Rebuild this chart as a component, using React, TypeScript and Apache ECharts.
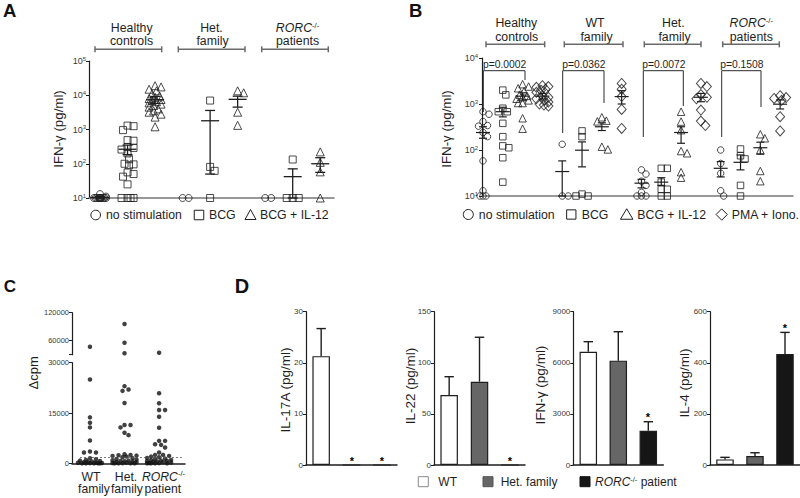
import React, { useEffect, useRef } from "react";
import * as echarts from "echarts";

const FONT = "'Liberation Sans', Arial, Helvetica, sans-serif";
const INK = "#1e1e1e";
const TICK = "#3a3a3a";

// ---------- Panel A : IFN-γ (pg/ml), 9 columns ----------
const A_HC_NS = [13, 11, 10, 10, 10, 10, 10, 10, 10, 10, 10, 10, 10, 10, 10];
const A_HC_BCG = [1300, 1250, 960, 490, 470, 310, 290, 260, 200, 135, 100, 96, 90, 56, 50, 42, 25, 10, 10, 10, 10];
const A_HC_IL12 = [19000, 17500, 15000, 13500, 11000, 9500, 8700, 8000, 7500, 7000, 6500, 6000, 5500, 5000, 4500, 4000, 3500, 3200, 2800, 2300, 1200];
const A_HET_NS = [10, 10];
const A_HET_BCG = [7000, 81, 62, 10];
const A_HET_IL12 = [13500, 11800, 3200, 1320];
const A_RORC_NS = [10, 10];
const A_RORC_BCG = [133, 10, 10, 10];
const A_RORC_IL12 = [222, 110, 58, 10];
const A_MEAN = [10.4, 265, 7400, null, 1800, 7600, null, 42, 100];
const A_SEM_LOW = [10, 185, 5800, null, 50, 4500, null, 10, 56];
const A_SEM_HIGH = [11, 350, 9200, null, 3600, 9400, null, 71, 150];

// ---------- Panel B : IFN-γ (pg/ml), 16 columns ----------
const B_HC_NS = [680, 600, 415, 340, 330, 240, 195, 58, 13, 10, 10, 10];
const B_HC_BCG = [2000, 1580, 810, 680, 680, 380, 195, 123, 112, 68, 20];
const B_HC_IL12 = [2700, 2400, 2200, 1900, 1600, 1500, 1400, 1300, 1200, 1050, 1050, 490, 290];
const B_HC_PMA = [2500, 2400, 2300, 2100, 2000, 1800, 1500, 1400, 1300, 1200, 1100, 1000, 950, 900];
const B_WT_NS = [133, 10, 10];
const B_WT_BCG = [260, 195, 11, 10, 10];
const B_WT_IL12 = [515, 435, 420, 118, 103];
const B_WT_PMA = [2800, 2100, 1450, 760, 295];
const B_HET_NS = [37, 30, 21, 17, 12, 10, 10, 10];
const B_HET_BCG = [40, 40, 20, 14, 14, 10, 10];
const B_HET_IL12 = [680, 415, 270, 95, 85, 33, 25];
const B_HET_PMA = [2800, 2400, 1600, 1400, 1300, 740, 425, 340];
const B_RORC_NS = [100, 51, 31, 13, 10];
const B_RORC_BCG = [105, 75, 64, 17, 10];
const B_RORC_IL12 = [220, 180, 100, 35, 21];
const B_RORC_PMA = [1520, 1380, 1320, 1200, 530, 260];
const B_MEAN = [240, 680, 1480, 1480, 34, 99, 320, 1450, 19, 20, 240, 1400, 40, 54, 112, 990];
const B_SEM_LOW = [180, 525, 1220, 1280, 10, 43, 265, 1000, 15, 17, 140, 1120, 26, 37, 81, 780];
const B_SEM_HIGH = [320, 850, 1750, 1700, 58, 150, 390, 1950, 23, 25, 320, 1700, 56, 78, 148, 1230];
const B_PVALUES = ["p=0.0002", "p=0.0362", "p=0.0072", "p=0.1508"];

// ---------- Panel C : Δcpm ----------
const C_CATS = ["WT family", "Het. family", "RORC-/- patient"];
const C_WT = [47000, 25000, 13700, 12100, 10700, 6800, 3500, 3200, 3200, 1500, 1200, 1000, 800, 700, 500, 400, 300, 200, 150, 100, 50, 0, 0, 0, 0, 0];
const C_HET = [95800, 55700, 33000, 23000, 22000, 21600, 18000, 11400, 11400, 10700, 9100, 8400, 2700, 2500, 2400, 2300, 2200, 2000, 1800, 1500, 1300, 1100, 900, 800, 700, 600, 500, 400, 300, 200, 100, 50, 0, 0, 0, 0];
const C_RORC = [34300, 20900, 17900, 15900, 15900, 13900, 10600, 6700, 6700, 5700, 5500, 4700, 3200, 2500, 2500, 2200, 2000, 1800, 1600, 1400, 1200, 1000, 900, 800, 700, 600, 500, 400, 300, 200, 100, 50, 0, 0, 0, 0];
const C_CUTOFF = 1800;

// ---------- Panel D : cytokines (pg/ml) ----------
const D_CATS = ["WT", "Het. family", "RORC-/- patient"];
const D_COLORS = ["#ffffff", "#666666", "#161616"];
const D_IL17A = [21.3, 0, 0];
const D_IL17A_ERR = [26.7, null, null];
const D_IL22 = [68.5, 81.5, 0];
const D_IL22_ERR = [86.4, 125, null];
const D_IFNG = [6650, 6125, 2015];
const D_IFNG_ERR = [7240, 7825, 2540];
const D_IL4 = [22, 35, 434];
const D_IL4_ERR = [30, 48, 519];
const D_IL17A_SIG = [false, true, true];
const D_IL22_SIG = [false, false, true];
const D_IFNG_SIG = [false, false, true];
const D_IL4_SIG = [false, false, true];

// ---------- helpers ----------
function swarm(vals: number[], center: number, toPx: (v: number) => number, pxPerUnit: number, size: number, maxHalf: number, step: number) {
  const placed: [number, number][] = [];
  const out: [number, number][] = [];
  const cands = [0];
  for (let k = step; k <= maxHalf + 1e-6; k += step) cands.push(k, -k);
  for (const v of vals) {
    const py = toPx(v);
    let best = 0;
    let bestScore = -1;
    for (const c of cands) {
      let minD = Infinity;
      for (const [qx, qy] of placed) {
        const d = Math.hypot(c - qx, py - qy);
        if (d < minD) minD = d;
      }
      if (minD >= size) { best = c; break; }
      if (minD > bestScore) { bestScore = minD; best = c; }
    }
    placed.push([best, py]);
    out.push([center + best / pxPerUnit, v]);
  }
  return out;
}

function meanRenderer(halfMean: number, halfCap: number, lw: number) {
  return (_p: any, api: any) => {
    const x = api.value(0);
    const pm = api.coord([x, api.value(1)]);
    const pl = api.coord([x, api.value(2)]);
    const ph = api.coord([x, api.value(3)]);
    const st = { stroke: INK, lineWidth: lw };
    return {
      type: "group",
      children: [
        { type: "line", shape: { x1: pm[0] - halfMean, y1: pm[1], x2: pm[0] + halfMean, y2: pm[1] }, style: st },
        { type: "line", shape: { x1: pm[0], y1: pl[1], x2: pm[0], y2: ph[1] }, style: st },
        { type: "line", shape: { x1: pm[0] - halfCap, y1: pl[1], x2: pm[0] + halfCap, y2: pl[1] }, style: st },
        { type: "line", shape: { x1: pm[0] - halfCap, y1: ph[1], x2: pm[0] + halfCap, y2: ph[1] }, style: st },
      ],
    };
  };
}

const supRich = {
  s: { fontSize: 6, fontFamily: FONT, color: TICK, verticalAlign: "bottom", padding: [0, 0, 5, 0] },
};
const logLabel = (v: number) => `10{s|${Math.round(Math.log10(v))}}`;
const plainLabel = (v: number) => String(v);

function txt(x: number, y: number, text: string, size = 12.3, extra: any = {}) {
  return {
    type: "text", x, y, silent: true, z: 10,
    style: { text, fontSize: size, fontFamily: FONT, fill: INK, align: "center", verticalAlign: "middle", ...extra },
  };
}
function rorc(x: number, y: number, size = 12.3, suffix = "", align = "center") {
  return {
    type: "text", x, y, silent: true, z: 10,
    style: {
      text: `{i|RORC}{s|-/-}${suffix ? `{n|${suffix}}` : ""}`,
      fontSize: size, fontFamily: FONT, fill: INK, align, verticalAlign: "middle",
      rich: {
        i: { fontStyle: "italic", fontSize: size, fontFamily: FONT, fill: INK, color: INK },
        s: { fontSize: size * 0.62, fontFamily: FONT, fill: INK, color: INK, verticalAlign: "bottom", padding: [0, 0, size * 0.45, 0] },
        n: { fontSize: size, fontFamily: FONT, fill: INK, color: INK },
      },
    },
  };
}
function vtxt(x: number, y: number, text: string, size: number) {
  return { ...txt(x, y, text, size), rotation: Math.PI / 2 };
}
function line(x1: number, y1: number, x2: number, y2: number, stroke = INK, lw = 1) {
  return { type: "line", silent: true, z: 10, shape: { x1, y1, x2, y2 }, style: { stroke, lineWidth: lw } };
}
function bracket(x1: number, x2: number, y: number, cap: number) {
  const c = "#6a6a6a";
  return [line(x1, y, x2, y, c, 1.5), line(x1, y - cap, x1, y + cap, c, 1.5), line(x2, y - cap, x2, y + cap, c, 1.5)];
}

function buildOption() {
  const grid = [
    { left: 89, top: 61, width: 245, height: 137 },
    { left: 482, top: 58, width: 311, height: 138 },
    { left: 72, top: 362.7, width: 113, height: 100.6 },
    { left: 72, top: 312.7, width: 113, height: 42 },
    { left: 306, top: 311.7, width: 91, height: 153.3 },
    { left: 434, top: 311.7, width: 91, height: 153.3 },
    { left: 573.3, top: 311.7, width: 90, height: 153.3 },
    { left: 710, top: 311.7, width: 90, height: 153.3 },
  ].map((g) => ({ ...g, containLabel: false, outerBoundsMode: "none" }));

  const hiddenX = (gi: number, min: number, max: number, color: string, lw: number) => ({
    type: "value", gridIndex: gi, min, max,
    axisLine: { show: true, onZero: false, lineStyle: { color, width: lw } },
    axisTick: { show: false }, axisLabel: { show: false }, splitLine: { show: false },
  });
  const yBase = (gi: number) => ({
    gridIndex: gi,
    axisLine: { show: true, onZero: false, lineStyle: { color: INK, width: 1.2 } },
    axisTick: { show: true, length: 3, lineStyle: { color: INK, width: 1 } },
    splitLine: { show: false },
  });

  const xAxis: any[] = [
    hiddenX(0, -0.4, 8.5, "#777777", 1.5),
    hiddenX(1, -0.05, 15.65, "#777777", 1.5),
    hiddenX(2, -0.52, 2.75, INK, 1.5),
    { ...hiddenX(3, -0.52, 2.75, INK, 1), show: false },
  ];
  for (let k = 0; k < 4; k++) {
    xAxis.push({
      type: "category", gridIndex: 4 + k, data: D_CATS, boundaryGap: true,
      axisLine: { show: true, onZero: false, lineStyle: { color: INK, width: 1.5 } },
      axisTick: { show: false }, axisLabel: { show: false }, splitLine: { show: false },
    });
  }

  const yAxis: any[] = [
    {
      ...yBase(0), type: "log", logBase: 10, min: 10, max: 100000,
      axisLabel: { margin: 3, fontSize: 9, fontFamily: FONT, color: TICK, formatter: logLabel, rich: supRich, showMinLabel: true, showMaxLabel: true },
      minorTick: { show: false },
    },
    {
      ...yBase(1), type: "log", logBase: 10, min: 10, max: 10000,
      axisLabel: { margin: 4, fontSize: 9, fontFamily: FONT, color: TICK, formatter: logLabel, rich: supRich, showMinLabel: true, showMaxLabel: true },
      minorTick: { show: false },
    },
    {
      ...yBase(2), type: "value", min: 0, max: 30000, interval: 15000,
      axisLabel: { margin: 3, fontSize: 7.5, fontFamily: FONT, color: TICK, formatter: plainLabel, showMinLabel: true, showMaxLabel: true },
    },
    {
      ...yBase(3), type: "value", min: 30000, max: 120000, interval: 30000,
      axisTick: { show: true, length: 3, lineStyle: { color: INK }, customValues: [30000, 60000, 120000] },
      axisLabel: {
        margin: 3, fontSize: 7.5, fontFamily: FONT, color: TICK, customValues: [60000, 120000],
        formatter: (v: number) => (v === 60000 || v === 120000 ? String(v) : ""),
      },
    },
  ];
  const dScales = [[30, 10], [150, 50], [9000, 3000], [600, 200]];
  dScales.forEach(([max, interval], k) => {
    yAxis.push({
      ...yBase(4 + k), type: "value", min: 0, max, interval,
      axisLabel: { margin: 3, fontSize: 8, fontFamily: FONT, color: TICK, formatter: plainLabel, showMinLabel: true, showMaxLabel: true },
    });
  });

  const series: any[] = [];
  const openStyle = { color: "rgba(255,255,255,0)", borderColor: INK, borderWidth: 1 };

  // Panel A scatter
  const aCols = [A_HC_NS, A_HC_BCG, A_HC_IL12, A_HET_NS, A_HET_BCG, A_HET_IL12, A_RORC_NS, A_RORC_BCG, A_RORC_IL12];
  const aSym = ["circle", "rect", "triangle"];
  const aSize = [7, 7, 8];
  const aPx = 245 / 8.9;
  aCols.forEach((vals, i) => {
    series.push({
      type: "scatter", xAxisIndex: 0, yAxisIndex: 0, silent: true, clip: false, z: 3,
      symbol: aSym[i % 3], symbolSize: aSize[i % 3], itemStyle: openStyle,
      data: swarm(vals, i, (v) => -Math.log10(v) * 34.25, aPx, 6, 7, 1.5),
    });
  });
  series.push({
    type: "custom", xAxisIndex: 0, yAxisIndex: 0, silent: true, z: 5, clip: false,
    itemStyle: { color: INK },
    renderItem: meanRenderer(9, 5, 1.3),
    data: A_MEAN.map((m, i) => (m == null ? null : [i, m, A_SEM_LOW[i], A_SEM_HIGH[i]])).filter(Boolean),
  });

  // Panel B scatter
  const bCols = [B_HC_NS, B_HC_BCG, B_HC_IL12, B_HC_PMA, B_WT_NS, B_WT_BCG, B_WT_IL12, B_WT_PMA,
    B_HET_NS, B_HET_BCG, B_HET_IL12, B_HET_PMA, B_RORC_NS, B_RORC_BCG, B_RORC_IL12, B_RORC_PMA];
  const bSym = ["circle", "rect", "triangle", "diamond"];
  const bSize: any[] = [6.5, 6.5, 7.5, [9, 10]];
  const bPx = 311 / 15.7;
  bCols.forEach((vals, i) => {
    series.push({
      type: "scatter", xAxisIndex: 1, yAxisIndex: 1, silent: true, clip: false, z: 3,
      symbol: bSym[i % 4], symbolSize: bSize[i % 4], itemStyle: openStyle,
      data: swarm(vals, i, (v) => -Math.log10(v) * 46, bPx, 5.5, 6, 1.5),
    });
  });
  series.push({
    type: "custom", xAxisIndex: 1, yAxisIndex: 1, silent: true, z: 5, clip: false,
    itemStyle: { color: INK },
    renderItem: meanRenderer(7, 4, 1.2),
    data: B_MEAN.map((m, i) => [i, m, B_SEM_LOW[i], B_SEM_HIGH[i]]),
  });

  // Panel C scatter (broken axis: two grids)
  const cPx = 113 / 3.27;
  const cToPx = (v: number) => (v <= 30000 ? -v * 0.003353 : -(108.6 + ((v - 30000) * 14) / 30000));
  const cLow: [number, number][] = [];
  const cHigh: [number, number][] = [];
  [C_WT, C_HET, C_RORC].forEach((vals, i) => {
    swarm(vals, i, cToPx, cPx, 4.3, 13, 2).forEach((p) => (p[1] > 30000 ? cHigh : cLow).push(p));
  });
  const dot = { color: "#111111" };
  series.push({
    type: "scatter", xAxisIndex: 2, yAxisIndex: 2, silent: true, clip: false, z: 3,
    symbol: "circle", symbolSize: 4.5, itemStyle: dot, data: cLow,
    markLine: {
      silent: true, symbol: ["none", "none"], label: { show: false },
      lineStyle: { type: [2, 2], color: "#555555", width: 0.8 },
      data: [[{ coord: [-0.29, C_CUTOFF] }, { coord: [2.66, C_CUTOFF] }]],
    },
  });
  series.push({
    type: "scatter", xAxisIndex: 3, yAxisIndex: 3, silent: true, clip: false, z: 3,
    symbol: "circle", symbolSize: 4.5, itemStyle: dot, data: cHigh,
  });

  // Panel D bars
  const dVals = [D_IL17A, D_IL22, D_IFNG, D_IL4];
  const dErr = [D_IL17A_ERR, D_IL22_ERR, D_IFNG_ERR, D_IL4_ERR];
  const dSig = [D_IL17A_SIG, D_IL22_SIG, D_IFNG_SIG, D_IL4_SIG];
  dVals.forEach((vals, k) => {
    series.push({
      type: "bar", xAxisIndex: 4 + k, yAxisIndex: 4 + k, silent: true, barWidth: 17.5, z: 2,
      itemStyle: { borderColor: INK, borderWidth: 1.2 },
      data: vals.map((v, i) => ({ value: v, itemStyle: { color: D_COLORS[i], borderColor: INK, borderWidth: 1.2 } })),
    });
    series.push({
      type: "custom", xAxisIndex: 4 + k, yAxisIndex: 4 + k, silent: true, z: 4, clip: false,
      itemStyle: { color: INK },
      renderItem: (_p: any, api: any) => {
        const i = api.value(0);
        const p0 = api.coord([i, api.value(1)]);
        const p1 = api.coord([i, api.value(2)]);
        const st = { stroke: INK, lineWidth: 1.4 };
        return {
          type: "group",
          children: [
            { type: "line", shape: { x1: p0[0], y1: p0[1], x2: p1[0], y2: p1[1] }, style: st },
            { type: "line", shape: { x1: p1[0] - 4.7, y1: p1[1], x2: p1[0] + 4.7, y2: p1[1] }, style: st },
          ],
        };
      },
      data: vals.map((v, i) => (dErr[k][i] == null ? null : [i, v, dErr[k][i]])).filter(Boolean),
    });
    series.push({
      type: "custom", xAxisIndex: 4 + k, yAxisIndex: 4 + k, silent: true, z: 4, clip: false,
      itemStyle: { color: "#000000" },
      renderItem: (_p: any, api: any) => {
        const p = api.coord([api.value(0), api.value(1)]);
        return {
          type: "text", x: Math.round(p[0]), y: Math.round(p[1] - 4.5),
          style: { text: "*", fontSize: 11, fontWeight: "bold", fontFamily: FONT, fill: "#000000", align: "center", verticalAlign: "middle" },
        };
      },
      data: vals.map((v, i) => (dSig[k][i] ? [i, dErr[k][i] ?? v] : null)).filter(Boolean),
    });
  });

  // Decorations, headers, legends
  const g: any[] = [];
  const letter = (t: string, x: number, y: number, s: number) => txt(x, y, t, s, { fontWeight: "bold", fill: "#111" });
  g.push(letter("A", 9.8, 10.2, 18.5), letter("B", 415.8, 10.5, 18.5), letter("C", 10, 286, 17), letter("D", 242, 285.5, 20));

  // A headers
  g.push(txt(131.7, 27.8, "Healthy"), txt(131.5, 40.8, "controls"));
  g.push(txt(211.5, 27.8, "Het."), txt(212.5, 40.8, "family"));
  g.push(rorc(297.5, 27.8), txt(297.5, 40.8, "patients"));
  g.push(...bracket(95, 161.7, 49.3, 3), ...bracket(178.3, 245, 49.3, 3), ...bracket(261.7, 328.3, 49.3, 3));
  // B headers
  g.push(txt(516.3, 23, "Healthy"), txt(516.7, 36.5, "controls"));
  g.push(txt(595, 23, "WT"), txt(596.5, 36.5, "family"));
  g.push(txt(673.3, 23, "Het."), txt(674.5, 36.5, "family"));
  g.push(rorc(751.3, 23), txt(751.3, 36.5, "patients"));
  g.push(...bracket(486, 544.7, 44.3, 3), ...bracket(564.3, 623, 44.3, 3), ...bracket(644.3, 701, 44.3, 3), ...bracket(722.7, 779.3, 44.3, 3));
  // p-value brackets
  const pBr = [[483.3, 525, 112, 80], [562.7, 604, 133, 103], [643.3, 683.3, 137, 106], [721.7, 761, 137, 107]];
  pBr.forEach(([x1, x2, yl, yr], k) => {
    g.push({
      type: "polyline", silent: true, z: 10,
      shape: { points: [[x1, yl], [x1, 70.7], [x2, 70.7], [x2, yr]] },
      style: { stroke: "#2a2a2a", lineWidth: 1, fill: null },
    });
    g.push(txt((x1 + x2) / 2 + 0.5, 64.5, B_PVALUES[k], 10.3));
  });

  // axis titles
  g.push(vtxt(58.3, 129, "IFN-γ (pg/ml)", 13.3), vtxt(446.3, 129, "IFN-γ (pg/ml)", 13.3));
  g.push(vtxt(33, 372.8, "Δcpm", 13));
  g.push(vtxt(285, 390, "IL-17A (pg/ml)", 13.5), vtxt(410.5, 386, "IL-22 (pg/ml)", 13.5));
  g.push(vtxt(540, 385, "IFN-γ (pg/ml)", 13.5), vtxt(684, 383, "IL-4 (pg/ml)", 13.5));

  // legends A and B
  const open = { fill: "#fff", stroke: INK, lineWidth: 1 };
  const left = { align: "left" };
  const circle = (cx: number, cy: number, r: number) => ({ type: "circle", silent: true, z: 10, shape: { cx, cy, r }, style: open });
  const square = (cx: number, cy: number, s: number) => ({ type: "rect", silent: true, z: 10, shape: { x: cx - s / 2, y: cy - s / 2, width: s, height: s }, style: open });
  const tri = (cx: number, cy: number, w: number, h: number) => ({ type: "polygon", silent: true, z: 10, shape: { points: [[cx, cy - h / 2], [cx + w / 2, cy + h / 2], [cx - w / 2, cy + h / 2]] }, style: open });
  const diamond = (cx: number, cy: number, w: number, h: number) => ({ type: "polygon", silent: true, z: 10, shape: { points: [[cx, cy - h / 2], [cx + w / 2, cy], [cx, cy + h / 2], [cx - w / 2, cy]] }, style: open });
  g.push(circle(95.7, 215, 4.8), txt(106, 215, "no stimulation", 12.3, left));
  g.push(square(199, 215, 9.5), txt(209, 215, "BCG", 12.3, left));
  g.push(tri(250.5, 214.5, 11, 10), txt(260, 215, "BCG + IL-12", 12.3, left));
  g.push(circle(468.3, 214.5, 5), txt(478.8, 215, "no stimulation", 12.3, left));
  g.push(square(571.3, 214.5, 9.3), txt(581.7, 215, "BCG", 12.3, left));
  g.push(tri(626.7, 214, 12.5, 10.5), txt(637.3, 215, "BCG + IL-12", 12.3, left));
  g.push(diamond(721.7, 214.5, 11.3, 11.3), txt(731.7, 215, "PMA + Iono.", 12.3, left));

  // C category labels
  g.push(txt(91, 476.5, "WT", 12.2), txt(94, 489.3, "family", 12.2));
  g.push(txt(126, 476.5, "Het.", 12.2), txt(126.8, 489.3, "family", 12.2));
  g.push(rorc(163.5, 476.5, 12.2), txt(162.8, 489.3, "patient", 12.2));

  // D legend
  const box = (cx: number, color: string, stroke: string) => ({
    type: "rect", silent: true, z: 10,
    shape: { x: cx - 5, y: 476.7, width: 10, height: 10 },
    style: { fill: color, stroke, lineWidth: 1 },
  });
  g.push(box(423.3, D_COLORS[0], "#8a8a8a"), txt(438.3, 481.7, D_CATS[0], 12, left));
  g.push(box(488, D_COLORS[1], "#555"), txt(500.7, 481.7, D_CATS[1], 12, left));
  g.push(box(585, D_COLORS[2], "#111"), rorc(595, 481.7, 12, " patient", "left"));

  return {
    animation: false,
    backgroundColor: "#ffffff",
    textStyle: { fontFamily: FONT },
    grid, xAxis, yAxis, series,
    graphic: { elements: g },
  };
}

export default function App() {
  const ref = useRef<HTMLDivElement>(null);
  useEffect(() => {
    if (!ref.current) return;
    const chart = echarts.init(ref.current, null, { renderer: "svg" });
    chart.setOption(buildOption() as any);
    return () => chart.dispose();
  }, []);
  return (
    <div
      ref={ref}
      style={{ position: "fixed", left: 0, top: 0, width: 800, height: 498, background: "#fff" }}
    />
  );
}
